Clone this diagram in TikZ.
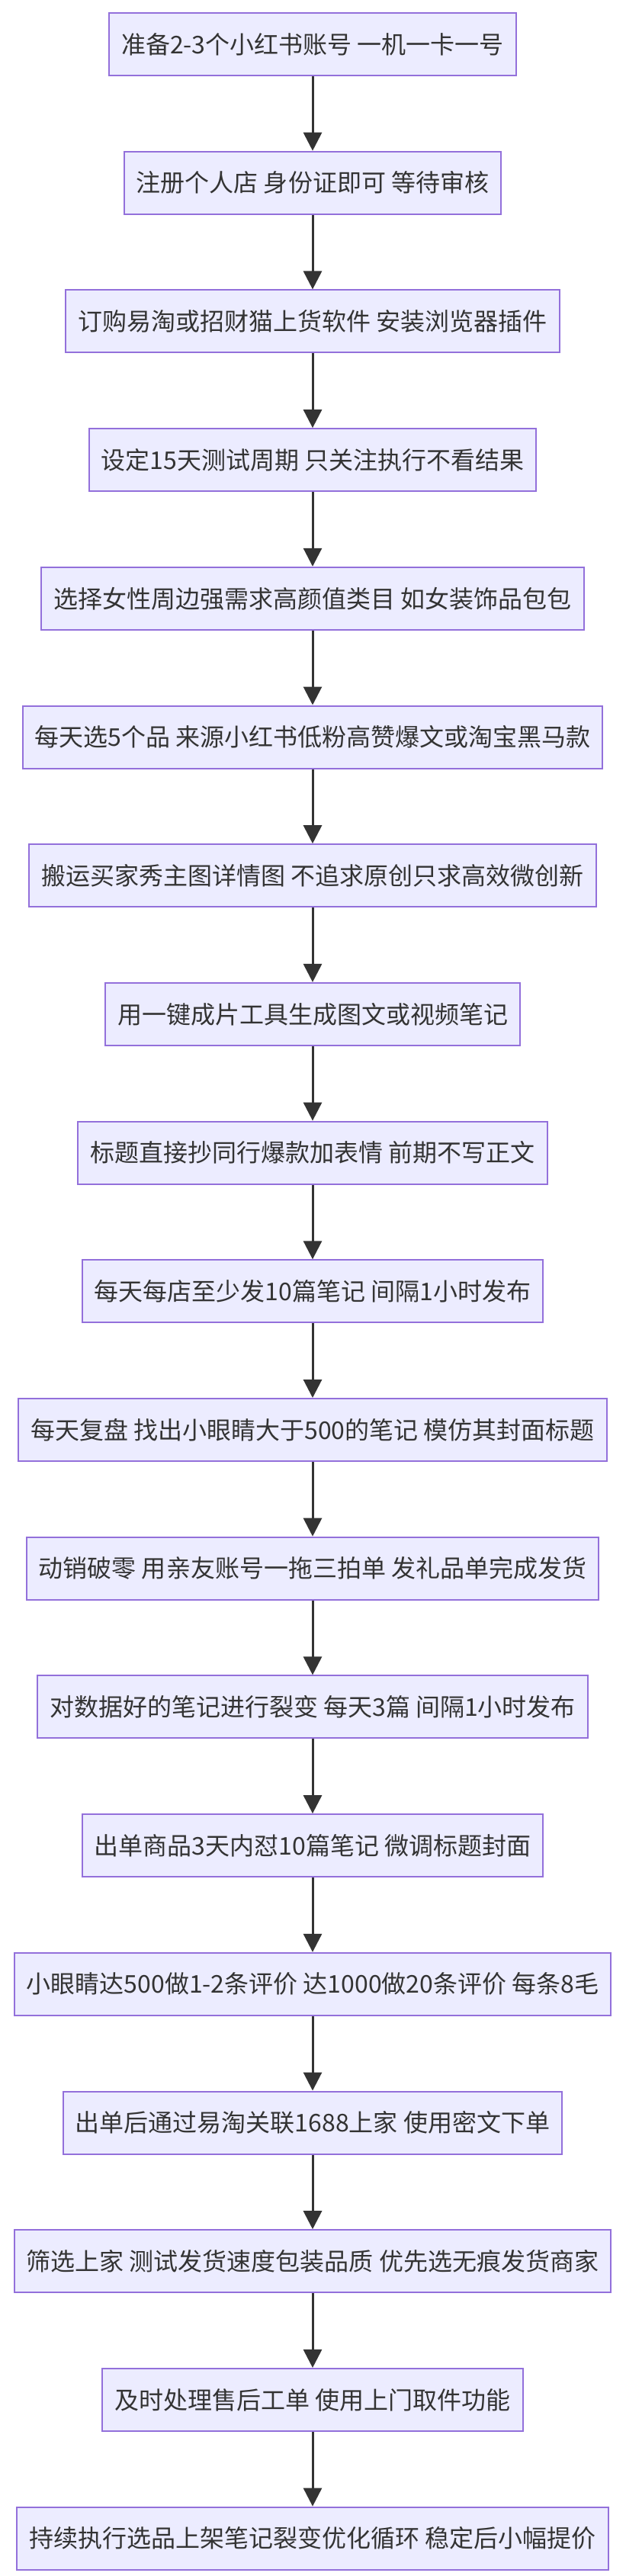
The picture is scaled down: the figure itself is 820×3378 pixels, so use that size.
\documentclass[tikz,border=0pt]{standalone}
\usepackage{fontspec}
\setmainfont{Noto Sans CJK SC}
\usetikzlibrary{arrows.meta}
\definecolor{boxfill}{HTML}{ECECFF}
\definecolor{boxline}{HTML}{9370DB}
\definecolor{arr}{HTML}{333333}
\tikzset{
  stepbox/.style={draw=boxline, fill=boxfill, line width=2pt, minimum height=82pt, inner xsep=16pt, inner ysep=0pt, font=\fontsize{32}{36}\selectfont, text=arr},
  flow/.style={draw=arr, line width=3pt, -{Triangle[length=24pt,width=24pt]}}
}
\begin{document}
\begin{tikzpicture}[x=1pt,y=1pt]
\useasboundingbox (0,0) rectangle (820,-3378);
\foreach \t [count=\i] in {
准备2-3个小红书账号 一机一卡一号,
注册个人店 身份证即可 等待审核,
订购易淘或招财猫上货软件 安装浏览器插件,
设定15天测试周期 只关注执行不看结果,
选择女性周边强需求高颜值类目 如女装饰品包包,
每天选5个品 来源小红书低粉高赞爆文或淘宝黑马款,
搬运买家秀主图详情图 不追求原创只求高效微创新,
用一键成片工具生成图文或视频笔记,
标题直接抄同行爆款加表情 前期不写正文,
每天每店至少发10篇笔记 间隔1小时发布,
每天复盘 找出小眼睛大于500的笔记 模仿其封面标题,
动销破零 用亲友账号一拖三拍单 发礼品单完成发货,
对数据好的笔记进行裂变 每天3篇 间隔1小时发布,
出单商品3天内怼10篇笔记 微调标题封面,
小眼睛达500做1-2条评价 达1000做20条评价 每条8毛,
出单后通过易淘关联1688上家 使用密文下单,
筛选上家 测试发货速度包装品质 优先选无痕发货商家,
及时处理售后工单 使用上门取件功能,
持续执行选品上架笔记裂变优化循环 稳定后小幅提价}
{
  \node[stepbox] (n\i) at (410,{-58-(\i-1)*181.7}) {\t};
}
\foreach \i [evaluate=\i as \j using int(\i+1)] in {1,...,18}
  \draw[flow] (n\i.south) -- (n\j.north);
\end{tikzpicture}
\end{document}
